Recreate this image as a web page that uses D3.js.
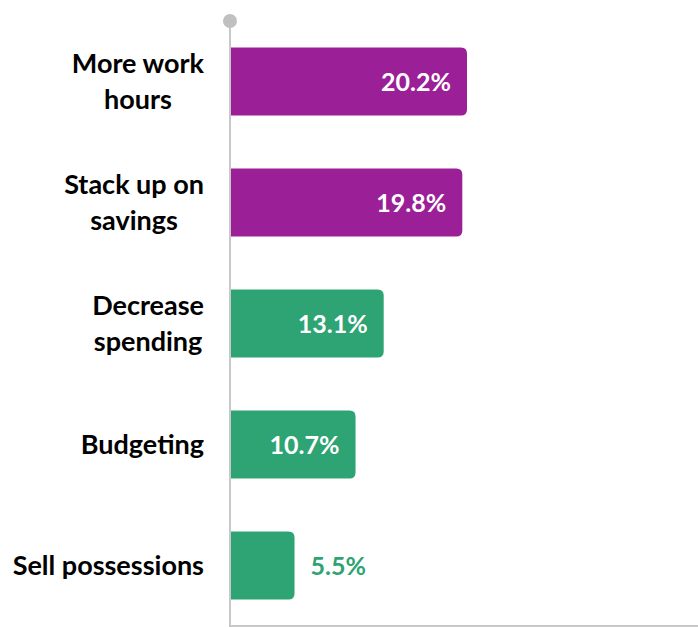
<!DOCTYPE html>
<html>
<head>
<meta charset="utf-8">
<script src="https://cdn.jsdelivr.net/npm/d3@7"></script>
<style>
body{margin:0;background:#fff;}
text{font-family:Lato,"Open Sans",sans-serif;font-weight:bold;}
</style>
</head>
<body>
<div id="container"></div>
<script>
var categories = [["More work","hours"],["Stack up on","savings"],["Decrease","spending"],["Budgeting"],["Sell possessions"]]
var values = [20.2,19.8,13.1,10.7,5.5]
var colors = ["#9b1f96","#9b1f96","#2ea373","#2ea373","#2ea373"]

var width = 698, height = 627
var x0 = 230

var svg = d3.select("#container").append("svg").attr("width",width).attr("height",height)

var xScale = d3.scaleLinear().domain([0,20.2]).range([x0,467])
var yScale = d3.scaleBand().domain(d3.range(values.length)).range([21,626]).paddingInner(0.44).paddingOuter(0.22)

// bars with rounded right end
function barPath(d,i){
    var x1 = xScale(d), y = yScale(i), h = yScale.bandwidth(), r = 6
    return "M"+x0+","+y+"H"+(x1-r)+"Q"+x1+","+y+" "+x1+","+(y+r)+"V"+(y+h-r)+"Q"+x1+","+(y+h)+" "+(x1-r)+","+(y+h)+"H"+x0+"Z"
}

svg.selectAll(".bar")
    .data(values)
    .enter()
    .append("path")
    .attr("class","bar")
    .attr("fill",function(d,i){return colors[i]})
    .attr("d",barPath)

// axis lines
svg.append("line").attr("x1",x0).attr("x2",x0).attr("y1",21).attr("y2",626)
    .attr("stroke","#c8c8c8").attr("stroke-width",2)
svg.append("line").attr("x1",x0-1).attr("x2",width).attr("y1",626).attr("y2",626)
    .attr("stroke","#c8c8c8").attr("stroke-width",2)
svg.append("circle").attr("cx",x0).attr("cy",21).attr("r",7).attr("fill","#c0c0c0")

// value labels
svg.selectAll(".val")
    .data(values)
    .enter()
    .append("text")
    .attr("class","val")
    .attr("x",function(d){return d<8 ? xScale(d)+16 : xScale(d)-16})
    .attr("y",function(d,i){return yScale(i)+yScale.bandwidth()/2})
    .attr("dy","0.37em")
    .attr("text-anchor",function(d){return d<8 ? "start" : "end"})
    .attr("fill",function(d,i){return d<8 ? colors[i] : "#fff"})
    .style("font-size","25px")
    .text(function(d){return d.toFixed(1)+"%"})

// category labels: block right-aligned at 204, lines centred in the block
var lab = svg.selectAll(".cat")
    .data(categories)
    .enter()
    .append("text")
    .attr("class","cat")
    .attr("text-anchor","middle")
    .attr("fill","#000")
    .style("font-size","27px")
    .attr("y",function(d,i){return yScale(i)+yScale.bandwidth()/2})

lab.selectAll("tspan")
    .data(function(d){return d.map(function(s,j){return {s:s,j:j,n:d.length}})})
    .enter()
    .append("tspan")
    .attr("dy",function(t){return t.j==0 ? (0.35-(t.n-1)*0.65)+"em" : "1.3em"})
    .text(function(t){return t.s})

lab.each(function(){
    var w = 0
    d3.select(this).selectAll("tspan").each(function(){ w = Math.max(w,this.getComputedTextLength()) })
    d3.select(this).selectAll("tspan").attr("x",204-w/2)
})
</script>
</body>
</html>
